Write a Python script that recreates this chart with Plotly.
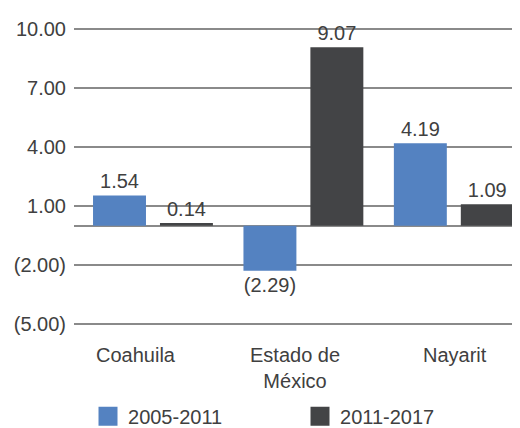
import plotly.graph_objects as go

categories = ["Coahuila", "Estado de México", "Nayarit"]
cat_labels = ["Coahuila", "Estado de<br>México", "Nayarit"]
series_names = ["2005-2011", "2011-2017"]
values_2005_2011 = [1.54, -2.29, 4.19]
values_2011_2017 = [0.14, 9.07, 1.09]
tick_vals = [-5, -2, 1, 4, 7, 10]

colors = ["#5482C1", "#434446"]
FONT = "Liberation Sans, Arial, sans-serif"
TXT = "#404040"


def fmt(v):
    return f"({abs(v):.2f})" if v < 0 else f"{v:.2f}"


tick_text = [fmt(v) for v in tick_vals]

fig = go.Figure()
for name, vals, col in zip(series_names, [values_2005_2011, values_2011_2017], colors):
    fig.add_trace(go.Bar(
        x=categories, y=vals, name=name, marker=dict(color=col, line=dict(width=0)),
        text=[fmt(v) for v in vals], textposition="outside", cliponaxis=False,
        constraintext="none",
        textfont=dict(family=FONT, size=20, color=TXT), showlegend=False,
    ))
    fig.add_trace(go.Scatter(
        x=[None], y=[None], mode="markers", name=name,
        marker=dict(symbol="square", size=16, color=col, line=dict(color=col, width=3)),
        showlegend=True,
    ))

shifts = [-17, -8, 1]
for c, lab, s in zip(categories, cat_labels, shifts):
    fig.add_annotation(x=c, y=0, xref="x", yref="paper", text=lab, showarrow=False,
                       xshift=s, yshift=-8, yanchor="top", align="center",
                       font=dict(family=FONT, size=20, color=TXT))

fig.update_layout(
    width=512, height=420,
    margin=dict(l=66, r=0, t=11, b=94, autoexpand=False),
    paper_bgcolor="white", plot_bgcolor="white",
    barmode="group", bargap=0.11, bargroupgap=0.209,
    font=dict(family=FONT, size=20, color=TXT),
    xaxis=dict(type="category", range=[-0.525, 2.44], showticklabels=False,
               showgrid=False, zeroline=False, showline=False),
    yaxis=dict(range=[-5.5, 10.5], tickvals=tick_vals, ticktext=tick_text,
               showgrid=True, gridcolor="#8a8a8a", gridwidth=2, zeroline=True,
               zerolinecolor="#8a8a8a", zerolinewidth=2, showline=False,
               ticks="outside", ticklen=3, tickcolor="rgba(0,0,0,0)",
               tickfont=dict(family=FONT, size=20, color=TXT)),
    legend=dict(orientation="h", x=0.0314, xanchor="left", y=-0.199, yanchor="top",
                entrywidth=167, entrywidthmode="pixels", tracegroupgap=0,
                font=dict(family=FONT, size=20, color=TXT), bgcolor="rgba(0,0,0,0)"),
)

fig.write_html("out.html")
